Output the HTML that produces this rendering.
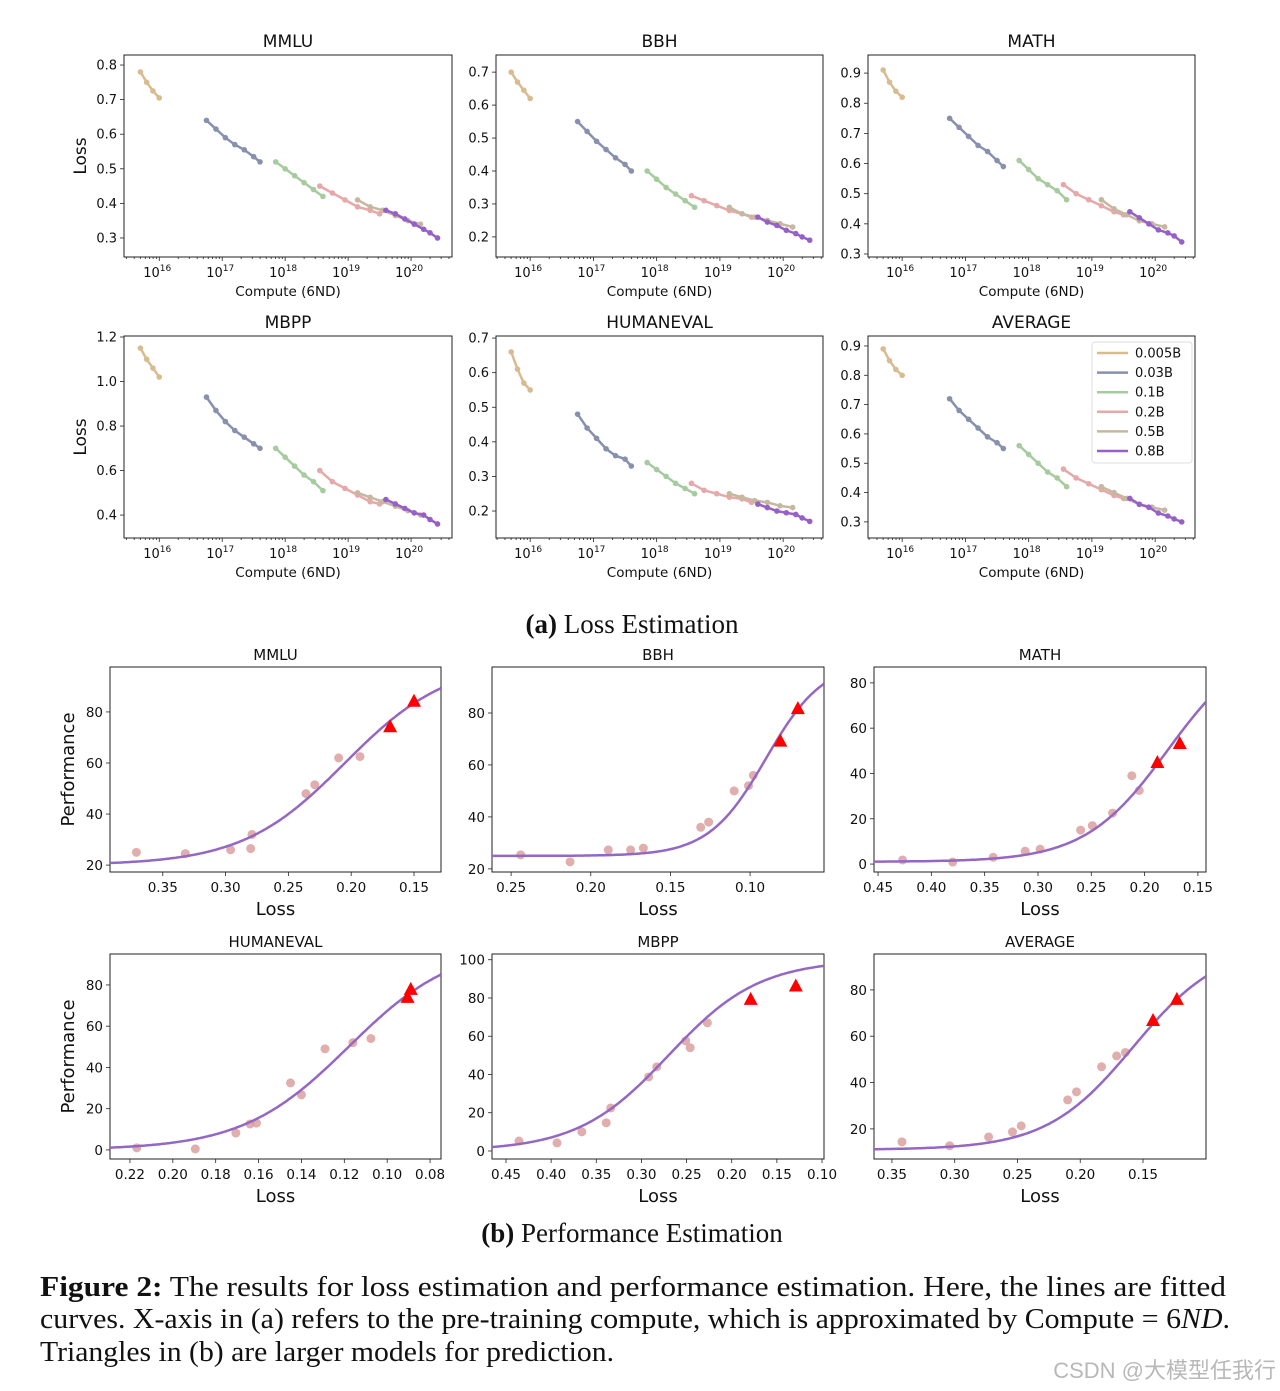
<!DOCTYPE html>
<html><head><meta charset="utf-8">
<style>
html,body{margin:0;padding:0;background:#fff;}
svg{display:block;}
text{font-family:"DejaVu Sans","Liberation Sans",sans-serif;fill:#111;}
.serif{font-family:"Liberation Serif",serif;}
</style></head>
<body>
<svg id="fig" width="1280" height="1391" viewBox="0 0 1280 1391" xmlns="http://www.w3.org/2000/svg">
<text class="serif" x="632" y="633" text-anchor="middle" font-size="27"><tspan font-weight="bold">(a)</tspan> Loss Estimation</text>
<text class="serif" x="632" y="1242" text-anchor="middle" font-size="27"><tspan font-weight="bold">(b)</tspan> Performance Estimation</text>
<text class="serif" x="40" y="1296" font-size="29" textLength="1186" lengthAdjust="spacingAndGlyphs"><tspan font-weight="bold">Figure 2:</tspan> The results for loss estimation and performance estimation. Here, the lines are fitted</text>
<text class="serif" x="40" y="1328" font-size="29" textLength="1190" lengthAdjust="spacingAndGlyphs">curves. X-axis in (a) refers to the pre-training compute, which is approximated by Compute = 6<tspan font-style="italic">ND</tspan>.</text>
<text class="serif" x="40" y="1361" font-size="29" textLength="574" lengthAdjust="spacingAndGlyphs">Triangles in (b) are larger models for prediction.</text>
<text x="1276" y="1378" text-anchor="end" font-size="22" style="fill:#b8b8b8;font-family:'Liberation Sans','Noto Sans CJK SC',sans-serif">CSDN @大模型任我行</text>
</svg>
<script>
// ---------- (a) Loss estimation data ----------
const seriesNames = ['0.005B','0.03B','0.1B','0.2B','0.5B','0.8B'];
const computeExp = [
  [15.7,15.8,15.9,16.0],
  [16.75,16.9,17.05,17.2,17.35,17.5,17.6],
  [17.85,18.0,18.15,18.3,18.45,18.6],
  [18.55,18.75,18.95,19.15,19.35,19.5],
  [19.15,19.35,19.55,19.75,19.95,20.15],
  [19.6,19.75,19.9,20.05,20.2,20.3,20.42]
];
const lossMMLU = [[.78,.75,.725,.705],[.64,.615,.59,.57,.555,.535,.52],[.52,.50,.48,.46,.44,.42],[.45,.43,.41,.39,.38,.37],[.41,.39,.38,.365,.35,.34],[.38,.37,.355,.34,.325,.315,.30]];
const lossBBH = [[.70,.67,.645,.62],[.55,.52,.49,.465,.44,.42,.40],[.40,.375,.35,.33,.31,.29],[.325,.31,.295,.28,.27,.26],[.29,.27,.26,.25,.24,.23],[.26,.245,.235,.22,.21,.20,.19]];
const lossMATH = [[.91,.87,.84,.82],[.75,.72,.69,.66,.64,.61,.59],[.61,.58,.55,.53,.51,.48],[.53,.50,.48,.46,.44,.43],[.48,.45,.43,.41,.40,.39],[.44,.42,.40,.38,.37,.36,.34]];
const lossMBPP = [[1.15,1.10,1.06,1.02],[.93,.87,.82,.78,.75,.72,.70],[.70,.66,.62,.58,.55,.51],[.60,.55,.52,.49,.46,.45],[.50,.48,.46,.44,.42,.40],[.47,.45,.43,.41,.40,.38,.36]];
const lossHUMANEVAL = [[.66,.61,.57,.55],[.48,.44,.41,.38,.36,.35,.33],[.34,.32,.30,.28,.265,.25],[.28,.26,.25,.24,.235,.225],[.25,.24,.23,.225,.215,.21],[.22,.21,.20,.195,.19,.18,.17]];
const lossAVERAGE = [[.89,.85,.82,.80],[.72,.68,.65,.62,.59,.57,.55],[.56,.53,.50,.47,.45,.42],[.48,.45,.43,.41,.39,.38],[.42,.40,.38,.36,.35,.34],[.38,.36,.35,.33,.32,.31,.30]];
const xTickExp = [16,17,18,19,20];
const ticksMMLU = [0.3,0.4,0.5,0.6,0.7,0.8];
const ticksBBH = [0.2,0.3,0.4,0.5,0.6,0.7];
const ticksMATH = [0.3,0.4,0.5,0.6,0.7,0.8,0.9];
const ticksMBPP = [0.4,0.6,0.8,1.0,1.2];
const ticksHUMANEVAL = [0.2,0.3,0.4,0.5,0.6,0.7];
const ticksAVERAGE = [0.3,0.4,0.5,0.6,0.7,0.8,0.9];

// ---------- (b) Performance estimation data ----------
const pLossMMLU = [0.371,0.332,0.296,0.280,0.279,0.236,0.229,0.210,0.193];
const pScoreMMLU = [25,24.5,26,26.5,32,48,51.5,62,62.5];
const tLossMMLU = [0.169,0.150]; const tScoreMMLU = [74,84];
const fitMMLU = [20,100,0.205,0.041];
const pLossBBH = [0.244,0.213,0.189,0.175,0.167,0.131,0.126,0.110,0.101,0.098];
const pScoreBBH = [25.4,22.7,27.3,27.3,28,36,38,50,52,56];
const tLossBBH = [0.081,0.070]; const tScoreBBH = [69,81.5];
const fitBBH = [25,100,0.09,0.018];
const pLossMATH = [0.427,0.380,0.342,0.312,0.298,0.260,0.249,0.230,0.212,0.205];
const pScoreMATH = [1.8,0.9,3,5.7,6.6,15,17,22.5,39,32.5];
const tLossMATH = [0.188,0.167]; const tScoreMATH = [44.6,53];
const fitMATH = [1,100,0.178,0.039];
const pLossHUMANEVAL = [0.2168,0.1895,0.1706,0.164,0.161,0.1451,0.140,0.129,0.116,0.1076];
const pScoreHUMANEVAL = [1,0.5,8.2,12.6,13,32.5,26.7,49,52,54];
const tLossHUMANEVAL = [0.0905,0.089]; const tScoreHUMANEVAL = [73.7,77.6];
const fitHUMANEVAL = [0,100,0.118,0.0248];
const pLossMBPP = [0.4356,0.3935,0.366,0.339,0.334,0.292,0.283,0.251,0.246,0.227];
const pScoreMBPP = [5.2,4.2,10,14.7,22.5,38.7,44,57.6,54,67];
const tLossMBPP = [0.179,0.129]; const tScoreMBPP = [79,86];
const fitMBPP = [0,100,0.27,0.0505];
const pLossAVERAGE = [0.342,0.304,0.273,0.254,0.247,0.210,0.203,0.183,0.171,0.164];
const pScoreAVERAGE = [14.4,12.7,16.5,18.7,21.3,32.5,36,46.8,51.5,53];
const tLossAVERAGE = [0.142,0.123]; const tScoreAVERAGE = [66.6,75.7];
const fitAVERAGE = [11,100,0.1576,0.0347];

const colors = ['#d8bc90','#8791ad','#a6cb9f','#e6a8a8','#c6b8a0','#9660c8'];
const NS = 'http://www.w3.org/2000/svg';
const svg = document.getElementById('fig');
function mk(tag, attrs, parent){
  const e = document.createElementNS(NS, tag);
  for (const k in attrs) e.setAttribute(k, attrs[k]);
  (parent||svg).appendChild(e);
  return e;
}

function panelA(name, box, xr, yr, data, yticks, showYLabel, showLegend){
  const g = mk('g', {});
  
  
  const [x0,y0,x1,y1] = box;
  const sx = v => x0 + (v - xr[0])/(xr[1]-xr[0])*(x1-x0);
  const sy = v => y1 - (v - yr[0])/(yr[1]-yr[0])*(y1-y0);
  data.forEach((s, i) => {
    const pts = s.map((v, j) => sx(computeExp[i][j]).toFixed(1) + ',' + sy(v).toFixed(1)).join(' ');
    const pl = mk('polyline', {points: pts, fill:'none', stroke: colors[i], 'stroke-width': 2.5, 'stroke-linecap':'round'}, g);
    
    
    s.forEach((v, j) => {
      const c = mk('circle', {cx: sx(computeExp[i][j]), cy: sy(v), r: 2.8, fill: colors[i]}, g);
      
      
    });
  });
  const fr = mk('rect', {x:x0, y:y0, width:x1-x0, height:y1-y0, fill:'none', stroke:'#222', 'stroke-width':1}, g);
  
  
  for (let e = 15; e <= 20; e++){
    for (let m = 1; m < 10; m++){
      const v = e + Math.log10(m);
      if (v < xr[0] || v > xr[1]) continue;
      const X = sx(v);
      mk('line', {x1:X, x2:X, y1:y1, y2:y1+(m===1?4:2), stroke:'#222', 'stroke-width':0.8}, g);
    }
  }
  xTickExp.forEach(e => {
    const t = mk('text', {x: sx(e)-2, y: y1+20, 'text-anchor':'middle', 'font-size':13}, g);
    
    
    t.innerHTML = '10<tspan font-size="9" dy="-6">' + e + '</tspan>';
  });
  yticks.forEach(v => {
    const Y = sy(v);
    mk('line', {x1:x0-4, x2:x0, y1:Y, y2:Y, stroke:'#222', 'stroke-width':0.8}, g);
    const t = mk('text', {x:x0-7, y:Y+4.5, 'text-anchor':'end', 'font-size':13}, g);
    
    
    t.textContent = v.toFixed(1);
  });
  const ti = mk('text', {x:(x0+x1)/2, y:y0-8, 'text-anchor':'middle', 'font-size':17}, g);
  
  
  ti.textContent = name;
  const xl = mk('text', {x:(x0+x1)/2, y:y1+39, 'text-anchor':'middle', 'font-size':13.5}, g);
  
  
  xl.textContent = 'Compute (6ND)';
  if (showYLabel){
    const yl = mk('text', {x:0, y:0, 'text-anchor':'middle', 'font-size':17, transform:'translate(86,'+((y0+y1)/2)+') rotate(-90)'}, g);
    
    
    yl.textContent = 'Loss';
  }
  if (showLegend){
    const lg = mk('g', {}, g);
    
    
    mk('rect', {x:1092, y:342, width:100, height:121, rx:3, fill:'#fff', stroke:'#ddd'}, lg);
    seriesNames.forEach((n, i) => {
      const Y = 353 + i*19.6;
      const le = mk('g', {}, lg);
      
      
      mk('line', {x1:1097, x2:1128, y1:Y, y2:Y, stroke:colors[i], 'stroke-width':2.5}, le);
      const t = mk('text', {x:1135, y:Y+4.5, 'font-size':13}, le);
      t.textContent = n;
    });
  }
}

const XRA = [15.44, 20.65], XRB = [15.46, 20.63];
panelA('MMLU', [124,55,452,257], XRA, [0.245,0.829], lossMMLU, ticksMMLU, true, false);
panelA('BBH', [496,55,823,257], XRB, [0.139,0.752], lossBBH, ticksBBH, false, false);
panelA('MATH', [868,55,1195,257], XRB, [0.29,0.96], lossMATH, ticksMATH, false, false);
panelA('MBPP', [124,336,452,538], XRA, [0.297,1.2045], lossMBPP, ticksMBPP, true, false);
panelA('HUMANEVAL', [496,336,823,538], XRB, [0.122,0.706], lossHUMANEVAL, ticksHUMANEVAL, false, false);
panelA('AVERAGE', [868,336,1195,538], XRB, [0.245,0.934], lossAVERAGE, ticksAVERAGE, false, true);

function panelB(name, box, xr, yr, pl, ps, tl, ts, fit, xticks, yticks, showYLabel){
  const g = mk('g', {});
  
  
  const [x0,y0,x1,y1] = box;
  const sx = v => x0 + (v - xr[0])/(xr[1]-xr[0])*(x1-x0);
  const sy = v => y1 - (v - yr[0])/(yr[1]-yr[0])*(y1-y0);
  const fr = mk('rect', {x:x0, y:y0, width:x1-x0, height:y1-y0, fill:'none', stroke:'#222', 'stroke-width':1}, g);
  
  
  const cg = mk('g', {'clip-path':'url(#clip-'+name+')'}, g);
  const cp = mk('clipPath', {id:'clip-'+name}, g);
  mk('rect', {x:x0, y:y0, width:x1-x0, height:y1-y0}, cp);
  pl.forEach((v, i) => {
    const c = mk('circle', {cx:sx(v), cy:sy(ps[i]), r:4.5, fill:'#d99a9a', 'fill-opacity':0.8}, cg);
    
    
  });
  const [L,U,m,s] = fit;
  let d = '';
  for (let k = 0; k <= 200; k++){
    const v = xr[0] + (xr[1]-xr[0])*k/200;
    const f = L + (U-L)/(1+Math.exp((v-m)/s));
    d += (k?'L':'M') + sx(v).toFixed(1) + ',' + sy(f).toFixed(1);
  }
  const cv = mk('path', {d:d, fill:'none', stroke:'#9467c4', 'stroke-width':2.5}, cg);
  
  
  tl.forEach((v, i) => {
    const X = sx(v), Y = sy(ts[i]);
    const t = mk('polygon', {points: X+','+(Y-8)+' '+(X-7)+','+(Y+5)+' '+(X+7)+','+(Y+5), fill:'#ff0000'}, g);
    
    
  });
  xticks.forEach(v => {
    const X = sx(v);
    mk('line', {x1:X, x2:X, y1:y1, y2:y1+4, stroke:'#222', 'stroke-width':0.8}, g);
    const t = mk('text', {x:X, y:y1+20, 'text-anchor':'middle', 'font-size':13.5}, g);
    
    
    t.textContent = v.toFixed(2);
  });
  yticks.forEach(v => {
    const Y = sy(v);
    mk('line', {x1:x0-4, x2:x0, y1:Y, y2:Y, stroke:'#222', 'stroke-width':0.8}, g);
    const t = mk('text', {x:x0-7, y:Y+5, 'text-anchor':'end', 'font-size':13.5}, g);
    
    
    t.textContent = String(v);
  });
  const ti = mk('text', {x:(x0+x1)/2, y:y0-7, 'text-anchor':'middle', 'font-size':15}, g);
  
  
  ti.textContent = name;
  const xl = mk('text', {x:(x0+x1)/2, y:y1+43, 'text-anchor':'middle', 'font-size':18}, g);
  
  
  xl.textContent = 'Loss';
  if (showYLabel){
    const yl = mk('text', {x:0, y:0, 'text-anchor':'middle', 'font-size':18, transform:'translate(74,'+((y0+y1)/2)+') rotate(-90)'}, g);
    
    
    yl.textContent = 'Performance';
  }
}

panelB('MMLU', [110,667,441,872], [0.392,0.1285], [17.3,97.6], pLossMMLU, pScoreMMLU, tLossMMLU, tScoreMMLU, fitMMLU, [0.35,0.30,0.25,0.20,0.15], [20,40,60,80], true);
panelB('BBH', [492,667,824,872], [0.262,0.0536], [18.8,97.7], pLossBBH, pScoreBBH, tLossBBH, tScoreBBH, fitBBH, [0.25,0.20,0.15,0.10], [20,40,60,80], false);
panelB('MATH', [874,667,1206,872], [0.4538,0.1424], [-3.5,87], pLossMATH, pScoreMATH, tLossMATH, tScoreMATH, fitMATH, [0.45,0.40,0.35,0.30,0.25,0.20,0.15], [0,20,40,60,80], false);
panelB('HUMANEVAL', [110,954,441,1159], [0.2293,0.0749], [-4.4,95], pLossHUMANEVAL, pScoreHUMANEVAL, tLossHUMANEVAL, tScoreHUMANEVAL, fitHUMANEVAL, [0.22,0.20,0.18,0.16,0.14,0.12,0.10,0.08], [0,20,40,60,80], true);
panelB('MBPP', [492,954,824,1159], [0.4655,0.0978], [-4.2,103], pLossMBPP, pScoreMBPP, tLossMBPP, tScoreMBPP, fitMBPP, [0.45,0.40,0.35,0.30,0.25,0.20,0.15,0.10], [0,20,40,60,80,100], false);
panelB('AVERAGE', [874,954,1206,1159], [0.3643,0.0998], [7,95.5], pLossAVERAGE, pScoreAVERAGE, tLossAVERAGE, tScoreAVERAGE, fitAVERAGE, [0.35,0.30,0.25,0.20,0.15], [20,40,60,80], false);
</script>
</body></html>
